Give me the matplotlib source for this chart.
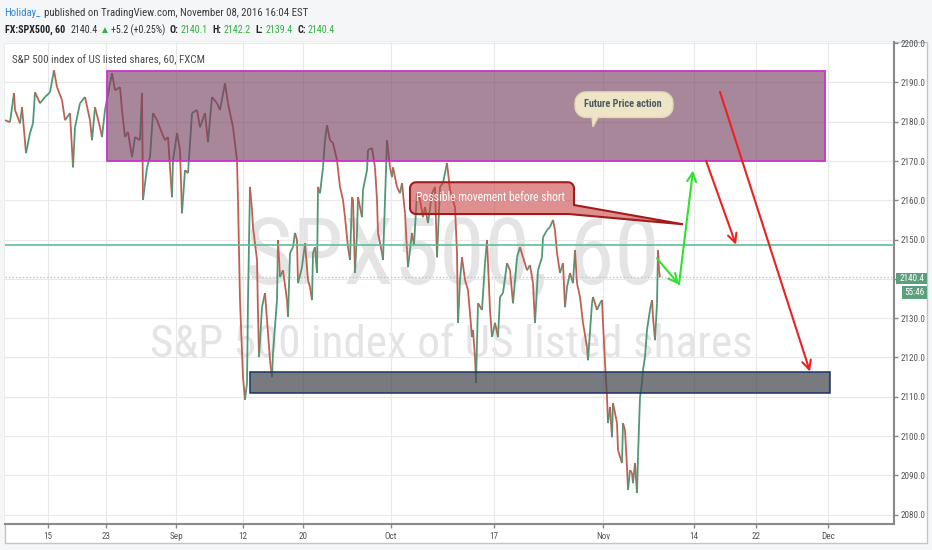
import numpy as np
import matplotlib.pyplot as plt
from matplotlib.patches import Rectangle, Polygon
from matplotlib.collections import LineCollection

FONTS = ['Roboto Condensed', 'Liberation Sans Narrow', 'Liberation Sans', 'DejaVu Sans']
plt.rcParams['font.family'] = FONTS

# SPX500 hourly swings, x = trading days after Aug 15 2016 (weekends collapsed)
days = [-4.2, -3.7, -3.3, -3.2, -2.7, -2.5, -2.1, -1.7, -1.4, -1.2, -0.7, -0.2, 0.3, 0.7, 1.0,
        1.5, 1.8, 2.3, 2.6, 2.8, 3.3, 3.8, 4.3, 4.5, 4.8, 5.3, 5.5, 5.8, 6.5, 6.8,
        7.3, 7.5, 7.8, 8.1, 8.5, 8.8, 9.3, 9.5, 9.6, 10.0, 10.3, 10.6, 11.0, 11.5, 11.8,
        12.1, 12.5, 12.6, 13.0, 13.3, 13.5, 13.8, 14.1, 14.5, 15.0, 15.3, 15.8, 16.1, 16.5, 17.0,
        17.3, 17.8, 18.1, 18.3, 18.6, 19.0, 19.1, 19.3, 19.6, 19.8, 20.0, 20.1, 20.3, 20.5, 20.6,
        21.0, 21.1, 21.2, 21.5, 21.8, 22.0, 22.1, 22.3, 22.5, 22.6, 23.0, 23.1, 23.3, 23.6, 24.0,
        24.1, 24.3, 24.6, 24.8, 25.0, 25.1, 25.5, 25.8, 26.1, 26.3, 26.5, 26.6, 26.8, 27.0, 27.1,
        27.3, 27.6, 27.8, 28.0, 28.3, 28.6, 29.0, 29.3, 29.6, 29.8, 30.1, 30.3, 30.5, 30.6, 30.8,
        31.0, 31.1, 31.5, 31.6, 32.0, 32.1, 32.5, 32.8, 33.0, 33.1, 33.5, 33.6, 33.8, 34.0, 34.3,
        34.5, 34.6, 35.0, 35.3, 35.5, 35.8, 36.0, 36.1, 36.5, 36.7, 37.0, 37.3, 37.6, 37.8, 38.1,
        38.5, 38.8, 39.0, 39.3, 39.6, 40.0, 40.3, 40.8, 41.0, 41.1, 41.3, 41.5, 41.8, 42.1, 42.5,
        42.6, 42.8, 42.9, 43.1, 43.5, 43.8, 44.0, 44.3, 44.5, 44.8, 45.1, 45.3, 45.6, 46.0, 46.3,
        46.6, 47.0, 47.3, 47.6, 48.0, 48.3, 48.6, 48.8, 49.1, 49.5, 49.6, 50.0, 50.3, 50.6, 50.8,
        51.0, 51.3, 51.6, 51.8, 52.0, 52.3, 52.6, 52.8, 53.0, 53.3, 53.6, 54.0, 54.1, 54.5, 54.6,
        55.0, 55.3, 55.5, 55.6, 55.8, 56.0, 56.1, 56.3, 56.5, 56.6, 57.0, 57.1, 57.5, 57.6, 57.8,
        58.0, 58.1, 58.3, 58.5, 58.6, 58.8, 59.0, 59.1, 59.3, 59.5, 59.6, 59.8, 60.0, 60.3, 60.5,
        60.6, 60.8, 61.0, 61.1, 61.2, 61.3]
closes = [2180.4, 2179.9, 2187.3, 2183.0, 2179.6, 2183.7, 2172.0, 2177.1, 2179.6, 2187.5, 2184.7, 2186.3, 2187.5, 2193.1, 2188.8,
          2185.5, 2180.4, 2182.2, 2168.4, 2178.6, 2184.7, 2186.3, 2180.4, 2175.3, 2183.7, 2178.6, 2176.1, 2183.0, 2192.4, 2188.0,
          2188.8, 2183.0, 2176.1, 2177.4, 2171.0, 2176.1, 2175.3, 2187.3, 2160.1, 2168.4, 2171.0, 2182.2, 2180.4, 2177.1, 2175.3,
          2176.1, 2160.8, 2170.2, 2177.1, 2172.8, 2156.7, 2167.7, 2166.9, 2182.2, 2183.0, 2178.6, 2182.2, 2174.8, 2186.3, 2184.7,
          2183.0, 2189.8, 2184.7, 2182.2, 2178.6, 2170.2, 2160.1, 2134.6, 2115.0, 2109.2, 2113.5, 2134.6, 2163.4, 2157.5, 2153.2,
          2144.8, 2131.3, 2120.1, 2132.8, 2136.4, 2129.5, 2126.2, 2119.3, 2115.0, 2121.1, 2134.6, 2149.9, 2140.5, 2142.2, 2134.6,
          2130.3, 2146.6, 2148.1, 2151.7, 2149.9, 2138.9, 2143.0, 2149.1, 2139.7, 2137.9, 2134.6, 2146.6, 2148.1, 2141.5, 2163.4,
          2161.8, 2168.4, 2175.3, 2179.1, 2175.3, 2174.6, 2170.2, 2163.4, 2160.1, 2155.7, 2148.1, 2144.8, 2160.8, 2160.1, 2141.5,
          2151.7, 2160.8, 2155.7, 2162.6, 2167.7, 2172.8, 2173.3, 2168.4, 2160.1, 2151.7, 2146.6, 2144.8, 2160.1, 2175.3, 2168.4,
          2165.9, 2168.4, 2163.4, 2161.8, 2164.4, 2156.7, 2147.3, 2143.0, 2151.7, 2148.6, 2161.8, 2160.1, 2155.7, 2158.3, 2154.2,
          2161.8, 2163.4, 2145.5, 2163.4, 2164.4, 2169.5, 2162.6, 2158.3, 2146.6, 2128.8, 2139.7, 2145.5, 2139.7, 2137.2, 2125.2,
          2127.0, 2120.1, 2113.5, 2133.8, 2132.1, 2144.0, 2149.9, 2132.1, 2125.2, 2128.8, 2125.2, 2135.4, 2136.4, 2144.0, 2142.2,
          2133.8, 2145.5, 2148.1, 2145.5, 2142.2, 2143.5, 2138.9, 2128.8, 2142.2, 2145.5, 2150.6, 2152.4, 2153.2, 2155.0, 2152.4,
          2146.6, 2141.5, 2144.0, 2132.8, 2137.9, 2141.5, 2138.9, 2147.3, 2138.9, 2135.4, 2128.8, 2122.6, 2119.3, 2133.8, 2135.4,
          2132.1, 2133.8, 2134.6, 2128.8, 2118.6, 2109.9, 2103.3, 2107.4, 2099.7, 2108.4, 2103.3, 2096.4, 2093.1, 2103.3, 2101.5,
          2092.1, 2086.3, 2091.3, 2090.6, 2088.0, 2093.1, 2085.5, 2094.7, 2109.9, 2113.5, 2116.8, 2120.1, 2127.0, 2132.1, 2134.6,
          2130.3, 2124.4, 2133.8, 2147.3, 2142.2, 2140.4]

tick_days = [0.1, 5.9, 12.9, 19.6, 25.6, 34.4, 44.7, 55.6, 64.7, 70.9, 78.1]
tick_labels = ['15', '23', 'Sep', '12', '20', 'Oct', '17', 'Nov', '14', '22', 'Dec']
price_ticks = [2080, 2090, 2100, 2110, 2120, 2130, 2140, 2150, 2160, 2170, 2180, 2190, 2200]

# drawings
supply_zone = [6.0, 77.8, 2170.0, 2192.9]   # x0, x1, y0, y1
demand_zone = [20.3, 78.3, 2111.0, 2116.4]
level_line = 2148.6
last_price = 2140.4
countdown = '55:46'
green_days = [61.0, 63.2, 64.6]
green_prices = [2145.2, 2138.6, 2167.6]
red_starts = [(65.9, 2170.1), (67.3, 2187.6)]
red_ends = [(68.9, 2148.7), (76.3, 2116.4)]

W, H = 932, 550
fig = plt.figure(figsize=(W / 100, H / 100), dpi=100, facecolor='#f4f6f8')
renderer = fig.canvas.get_renderer()


def fx(px):
    return px / W


def fy(py):
    return 1 - py / H


def fit(t, width_px):
    # shrink/grow a text so it spans the width measured on the reference
    w = t.get_window_extent(renderer).width
    t.set_fontsize(t.get_fontsize() * width_px / w)
    return t


# white chart panel
fig.add_artist(Rectangle((fx(5), fy(543)), fx(922), 501 / H, transform=fig.transFigure,
                         fc='white', ec='#c4c4c4', lw=1, zorder=-5))

ax = fig.add_axes([fx(5), fy(524), fx(889), 482 / H])
ax.set_facecolor('white')
ax.set_xlim(-4.2, 84.7)
ax.set_ylim(2077.6, 2200.3)

ax.set_xticks(tick_days)
ax.set_xticklabels(tick_labels)
ax.set_yticks(price_ticks)
# the 2140.0 label sits under the last-price marker in the reference
ax.set_yticklabels(['' if p == 2140 else f'{p:.1f}' for p in price_ticks])
ax.yaxis.tick_right()
ax.tick_params(axis='both', direction='out', length=3, width=1, color='#888888',
               labelsize=6.6, labelcolor='#555555')
ax.tick_params(axis='y', pad=2)
ax.tick_params(axis='x', pad=3)
ax.grid(True, color='#e8e8e8', lw=0.8, zorder=0)
ax.set_axisbelow(True)
for s in ['top', 'left']:
    ax.spines[s].set_visible(False)
for s in ['right', 'bottom']:
    ax.spines[s].set_color('#8a8a8a')
    ax.spines[s].set_linewidth(1.5)

# watermark (behind the candles)
wm1 = ax.text(fx(452), fy(285), 'SPX500, 60', transform=fig.transFigure, ha='center',
              va='baseline', fontsize=60, color='#e4e4e4', zorder=0.5)
fit(wm1, 415)
wm2 = ax.text(fx(451), fy(357), 'S&P 500 index of US listed shares', transform=fig.transFigure,
              ha='center', va='baseline', fontsize=30, color='#e4e4e4', zorder=0.5)
fit(wm2, 602)

# price path coloured by direction
pts = np.column_stack([days, closes])
segs = np.stack([pts[:-1], pts[1:]], axis=1)
cols = ['#4f9876' if c1 >= c0 else '#c35f50' for c0, c1 in zip(closes[:-1], closes[1:])]
ax.add_collection(LineCollection(segs, colors=cols, linewidths=1.3, zorder=2))

# horizontal lines
ax.axhline(level_line, color='#5dbf9a', lw=1.2, zorder=3)
ax.axhline(last_price, color='#b8c4cc', lw=1, ls=(0, (1, 1.5)), zorder=1.5)

# zones
x0, x1, y0, y1 = supply_zone
ax.add_patch(Rectangle((x0, y0), x1 - x0, y1 - y0, fc=(0.46, 0.24, 0.37, 0.62),
                       ec='#cc33cc', lw=1.3, zorder=4))
x0, x1, y0, y1 = demand_zone
ax.add_patch(Rectangle((x0, y0), x1 - x0, y1 - y0, fc=(0.28, 0.30, 0.33, 0.74),
                       ec='#1c3366', lw=1.1, zorder=4))

# arrows
arrow = dict(arrowstyle='->', lw=1.5, mutation_scale=16, shrinkA=0, shrinkB=0)
for i in range(len(green_days) - 1):
    ax.annotate('', xy=(green_days[i + 1], green_prices[i + 1]),
                xytext=(green_days[i], green_prices[i]),
                arrowprops=dict(arrow, color='#2fe22f'), zorder=6)
for s, e in zip(red_starts, red_ends):
    ax.annotate('', xy=e, xytext=s, arrowprops=dict(arrow, color='#ee2020'), zorder=6)


def arc(cx, cy, r, a0, a1, n=8):
    a = np.radians(np.linspace(a0, a1, n))
    return list(zip(cx + r * np.cos(a), cy + r * np.sin(a)))


def callout(x0, x1, y0, y1, r, tail, corner_tail, **kw):
    T = ax.transData
    (X0, Y0), (X1, Y1) = T.transform([(x0, y0), (x1, y1)])
    tp = [tuple(p) for p in T.transform(tail)]
    v = arc(X0 + r, Y1 - r, r, 180, 90) + arc(X1 - r, Y1 - r, r, 90, 0)
    if corner_tail:
        v += tp
    else:
        v += arc(X1 - r, Y0 + r, r, 0, -90) + tp
    v += arc(X0 + r, Y0 + r, r, 270, 180)
    ax.add_patch(Polygon(T.inverted().transform(v), closed=True, **kw))


# "Possible movement before short" callout
callout(36.3, 52.7, 2156.5, 2164.6, 6,
        [(52.7, 2158.8), (63.6, 2153.9), (52.2, 2156.5)], True,
        fc=(0.78, 0.25, 0.25, 0.58), ec='#a31b1b', lw=1.5, zorder=7)
t = ax.text(36.9, 2160.6, 'Possible movement before short', color='white', fontsize=8,
            va='center', ha='left', zorder=8)
fit(t, 150)

# "Future Price action" callout
callout(52.8, 62.6, 2181.1, 2187.6, 11,
        [(55.1, 2181.1), (54.6, 2178.7), (54.5, 2181.1)], False,
        fc='#eee5c6', ec='#e3d8b2', lw=1, zorder=7)
t = ax.text(57.6, 2184.4, 'Future Price action', color='#4d5a66', fontsize=8,
            fontweight='bold', va='center', ha='center', zorder=8)
fit(t, 78)

# last price + countdown labels on the price scale
fig.add_artist(Rectangle((fx(895.7), fy(284.3)), fx(31.6), 11.6 / H, transform=fig.transFigure,
                         fc='#5b9f7d', ec='none', zorder=10))
fig.text(fx(911.5), fy(278.5), f'{last_price:.1f}', ha='center', va='center',
         fontsize=6.6, color='white', zorder=11)
fig.add_artist(Rectangle((fx(901.7), fy(299.3)), fx(25.6), 13.3 / H, transform=fig.transFigure,
                         fc='#5b9f7d', ec='none', zorder=10))
fig.text(fx(914.5), fy(292.6), countdown, ha='center', va='center', fontsize=6.6,
         color='white', zorder=11)

# chart title inside the panel
t = fig.text(fx(11.5), fy(59.5), 'S&P 500 index of US listed shares, 60, FXCM', fontsize=8,
             color='#4a4a4a', va='center', ha='left')
fit(t, 192)


def text_row(pieces, x_start, y_base, x_end, size):
    # find the font size that makes the row end where the reference row ends
    gaps = sum(p[3] for p in pieces[:-1])
    for _ in range(4):
        span = 0
        for s, c, w, gap in pieces:
            a = fig.text(0, 0, s, fontsize=size, fontweight=w)
            span += a.get_window_extent(renderer).width
            a.remove()
        size *= (x_end - x_start - gaps) / span
    x = x_start
    for s, c, w, gap in pieces:
        a = fig.text(fx(x), fy(y_base), s, fontsize=size, color=c, fontweight=w,
                     va='baseline')
        x += a.get_window_extent(renderer).width + gap


text_row([('Holiday_', '#2f86cf', 'normal', 3),
          ('published on TradingView.com, November 08, 2016 16:04 EST', '#3a3a3a', 'normal', 0)],
         4, 16.5, 309, 8)
text_row([('FX:SPX500, 60', '#222222', 'bold', 5),
          ('2140.4', '#333333', 'normal', 2),
          ('\u25B2', '#33b043', 'normal', 2),
          ('+5.2 (+0.25%)', '#333333', 'normal', 4),
          ('O:', '#222222', 'bold', 2),
          ('2140.1', '#33b043', 'normal', 5),
          ('H:', '#222222', 'bold', 2),
          ('2142.2', '#33b043', 'normal', 5),
          ('L:', '#222222', 'bold', 2),
          ('2139.4', '#33b043', 'normal', 5),
          ('C:', '#222222', 'bold', 2),
          ('2140.4', '#33b043', 'normal', 0)],
         5, 33, 335, 8)

fig.savefig('out.png', dpi=100, facecolor=fig.get_facecolor())
